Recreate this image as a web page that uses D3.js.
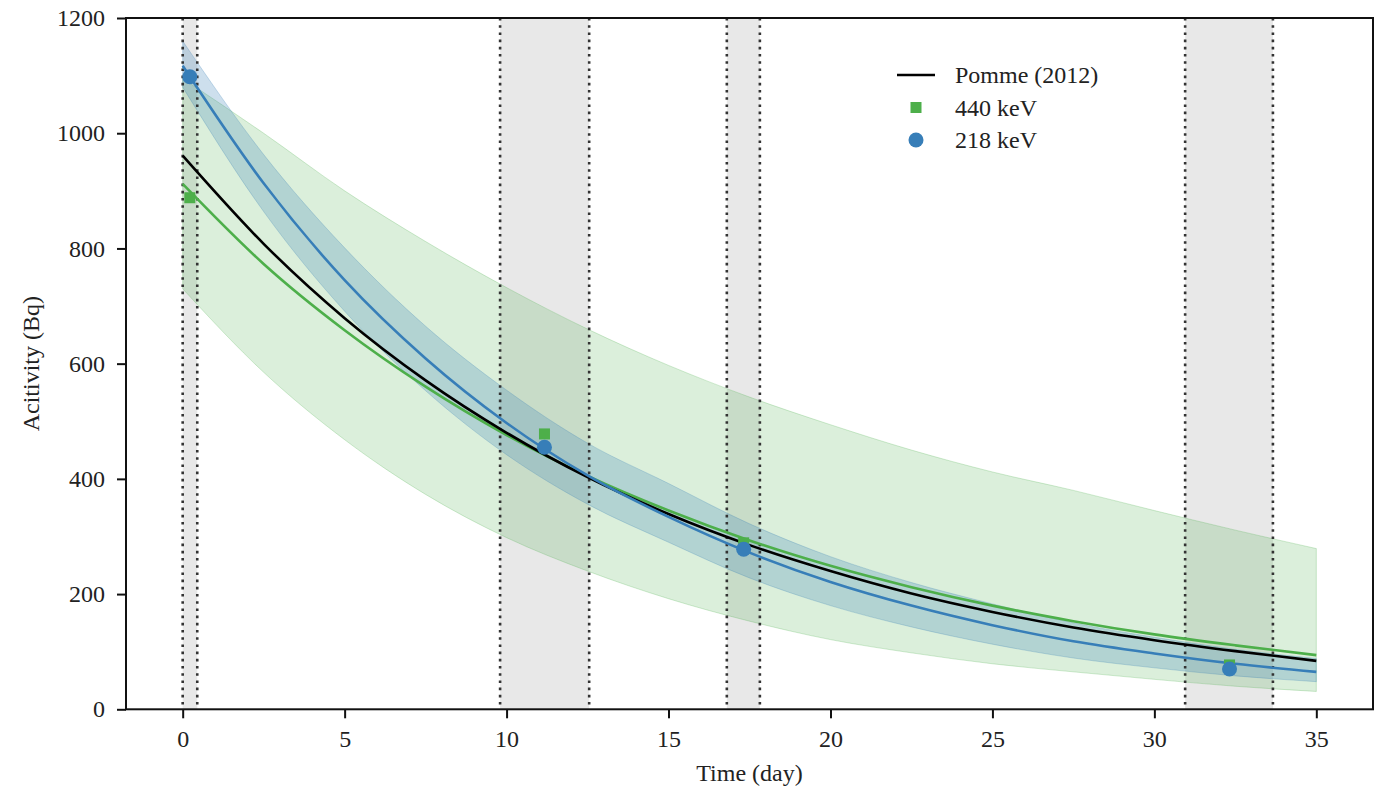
<!DOCTYPE html>
<html>
<head>
<meta charset="utf-8">
<script src="https://cdn.jsdelivr.net/npm/d3@7"></script>
<style>
  html, body { margin: 0; padding: 0; background: #fff; }
  svg { display: block; }
  text { font-family: "Liberation Serif", "Times New Roman", serif; fill: #222; }
</style>
</head>
<body>
<svg id="chart" width="1382" height="788"></svg>
<script>
// ---- data ----
const days      = [0, 2.5, 5, 7.5, 10, 12.5, 15, 17.5, 20, 22.5, 25, 27.5, 30, 32.5, 35];
const pomme     = [961, 808, 679, 571, 480, 403, 339, 285, 240, 201, 169, 142, 120, 101, 84];
const fit440    = [912, 773, 658, 560, 476, 405, 345, 293, 249, 212, 180, 153, 130, 111, 94];
const fit440Hi  = [1095, 1000, 900, 812, 732, 660, 597, 542, 494, 450, 412, 380, 345, 311, 279];
const fit440Lo  = [730, 585, 468, 373, 298, 240, 192, 153, 121, 98, 79, 65, 52, 40, 31];
const fit218    = [1117, 913, 745, 609, 497, 406, 334, 272, 221, 180, 146, 118, 97, 79, 65];
const fit218Hi  = [1160, 963, 801, 665, 554, 462, 392, 322, 265, 220, 183, 150, 125, 104, 88];
const fit218Lo  = [1080, 864, 691, 553, 442, 356, 290, 228, 180, 143, 113, 89, 72, 58, 48];

const measDays  = [0.22, 11.17, 17.32, 32.32];
const act440    = [888, 478, 289, 77];
const act218    = [1098, 455, 278, 70];

const countStart = [0, 9.8, 16.8, 30.95];
const countEnd   = [0.45, 12.55, 17.82, 33.66];

const xTicks = [0, 5, 10, 15, 20, 25, 30, 35];
const yTicks = [0, 200, 400, 600, 800, 1000, 1200];

const legendLabels = ["Pomme (2012)", "440 keV", "218 keV"];

// ---- drawing ----
const svg = d3.select("#chart");
const L = 126, R = 1373, T = 18, B = 709.3;
const x = d3.scaleLinear().domain([-1.75, 36.75]).range([L, R]);
const y = d3.scaleLinear().domain([0, 1200]).range([B, T]);

const green = "#4daf4a", blue = "#377eb8";
const FS = 24;

const g = svg.append("g");
svg.append("clipPath").attr("id", "plotclip")
  .append("rect").attr("x", L).attr("y", T).attr("width", R - L).attr("height", B - T);
const plot = g.append("g").attr("clip-path", "url(#plotclip)");

// counting intervals (gray spans)
const spans = countStart.map((s, i) => ({ s, e: countEnd[i] }));
plot.selectAll("rect.span").data(spans).join("rect")
  .attr("class", "span")
  .attr("x", d => x(d.s)).attr("width", d => x(d.e) - x(d.s))
  .attr("y", T).attr("height", B - T)
  .attr("fill", "#e8e8e8");

// uncertainty bands
const band = (lo, hi) => d3.area()
  .x((d, i) => x(days[i]))
  .y0((d, i) => y(lo[i]))
  .y1((d, i) => y(hi[i]))
  .curve(d3.curveMonotoneX)(days);

plot.append("path").attr("d", band(fit440Lo, fit440Hi))
  .attr("fill", green).attr("fill-opacity", 0.2)
  .attr("stroke", green).attr("stroke-opacity", 0.25).attr("stroke-width", 1);
plot.append("path").attr("d", band(fit218Lo, fit218Hi))
  .attr("fill", blue).attr("fill-opacity", 0.25)
  .attr("stroke", blue).attr("stroke-opacity", 0.25).attr("stroke-width", 1);

// dotted boundaries of counting intervals
const bounds = countStart.concat(countEnd);
plot.selectAll("line.bound").data(bounds).join("line")
  .attr("class", "bound")
  .attr("x1", d => x(d)).attr("x2", d => x(d))
  .attr("y1", T).attr("y2", B)
  .attr("stroke", "#333").attr("stroke-width", 2.6)
  .attr("stroke-dasharray", "2.6,4.6");

// fitted curves
const line = arr => d3.line()
  .x((d, i) => x(days[i]))
  .y((d, i) => y(arr[i]))
  .curve(d3.curveMonotoneX)(days);

plot.append("path").attr("d", line(fit440)).attr("fill", "none")
  .attr("stroke", green).attr("stroke-width", 2.6);
plot.append("path").attr("d", line(pomme)).attr("fill", "none")
  .attr("stroke", "#000").attr("stroke-width", 2.6);
plot.append("path").attr("d", line(fit218)).attr("fill", "none")
  .attr("stroke", blue).attr("stroke-width", 2.6);

// measured points
const sq = 11;
plot.selectAll("rect.m440").data(measDays).join("rect")
  .attr("class", "m440")
  .attr("x", (d) => x(d) - sq / 2)
  .attr("y", (d, i) => y(act440[i]) - sq / 2)
  .attr("width", sq).attr("height", sq)
  .attr("fill", green);
plot.selectAll("circle.m218").data(measDays).join("circle")
  .attr("class", "m218")
  .attr("cx", d => x(d))
  .attr("cy", (d, i) => y(act218[i]))
  .attr("r", 7.5)
  .attr("fill", blue);

// axes
const xAxis = d3.axisBottom(x).tickValues(xTicks).tickSize(9).tickPadding(12).tickFormat(d3.format("d"));
const yAxis = d3.axisLeft(y).tickValues(yTicks).tickSize(9).tickPadding(12).tickFormat(d3.format("d"));

const gx = g.append("g").attr("transform", `translate(0,${B})`).call(xAxis);
const gy = g.append("g").attr("transform", `translate(${L},0)`).call(yAxis);
[gx, gy].forEach(a => {
  a.select(".domain").remove();
  a.selectAll(".tick line").attr("stroke", "#111").attr("stroke-width", 2);
  a.selectAll(".tick text").attr("font-size", FS).attr("fill", "#222")
    .attr("font-family", '"Liberation Serif", "Times New Roman", serif');
});

// frame
g.append("rect").attr("x", L).attr("y", T).attr("width", R - L).attr("height", B - T)
  .attr("fill", "none").attr("stroke", "#111").attr("stroke-width", 2);

// axis labels
g.append("text").attr("x", (L + R) / 2).attr("y", 781)
  .attr("text-anchor", "middle").attr("font-size", FS).text("Time (day)");
g.append("text").attr("transform", `translate(39,${(T + B) / 2}) rotate(-90)`)
  .attr("text-anchor", "middle").attr("font-size", FS).text("Acitivity (Bq)");

// legend
const lg = g.append("g");
const rows = [75, 107.5, 140];
lg.append("line").attr("x1", 897).attr("x2", 935).attr("y1", rows[0]).attr("y2", rows[0])
  .attr("stroke", "#000").attr("stroke-width", 2.6);
lg.append("rect").attr("x", 916 - sq / 2).attr("y", rows[1] - sq / 2)
  .attr("width", sq).attr("height", sq).attr("fill", green);
lg.append("circle").attr("cx", 916).attr("cy", rows[2]).attr("r", 7.5).attr("fill", blue);
lg.selectAll("text.lg").data(legendLabels).join("text")
  .attr("class", "lg")
  .attr("x", 955).attr("y", (d, i) => rows[i])
  .attr("dy", "0.35em").attr("font-size", FS).text(d => d);
</script>
</body>
</html>
